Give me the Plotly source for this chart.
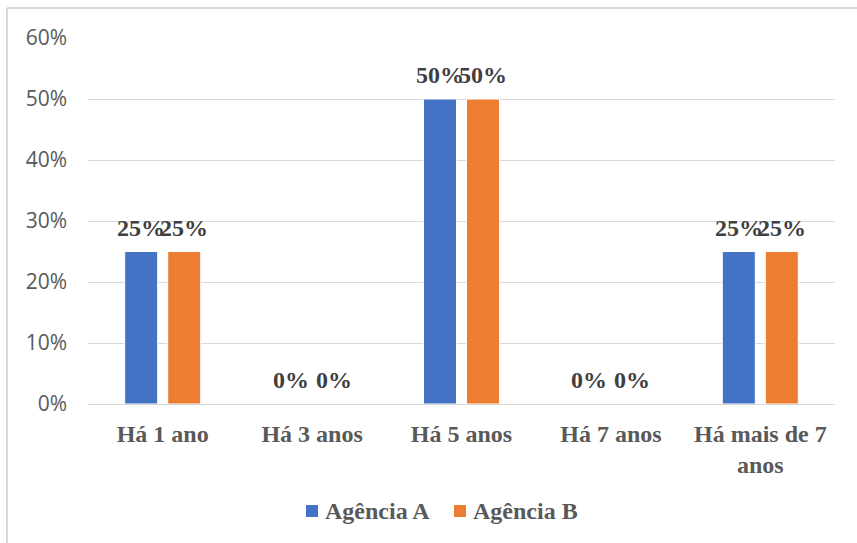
import plotly.graph_objects as go

# Time ranges and the share of respondents per agency
categories = ["Há 1 ano", "Há 3 anos", "Há 5 anos", "Há 7 anos", "Há mais de 7<br>anos"]
agencia_a = [0.25, 0.0, 0.50, 0.0, 0.25]
agencia_b = [0.25, 0.0, 0.50, 0.0, 0.25]
series_names = ["Agência A", "Agência B"]
y_ticks = [0, 0.1, 0.2, 0.3, 0.4, 0.5, 0.6]
y_tick_labels = ["0%", "10%", "20%", "30%", "40%", "50%", "60%"]

BLUE = "#4472C4"
ORANGE = "#ED7D31"
GRID = "#D9D9D9"
SERIF = "Liberation Serif"
BOLD_SERIF = dict(family=SERIF, weight="bold")

W, H = 857, 543
ML, MR, MT, MB = 88, 22, 38, 139
PW, PH = W - ML - MR, H - MT - MB

BAR_GAP = 0.424
GROUP_GAP = 0.233
# horizontal offset (px) of each bar centre from its category centre
slot_px = PW / len(categories) * (1 - BAR_GAP) / 2
offsets = [-slot_px / 2, slot_px / 2]


def px_x(p):
    return (p - ML) / PW


def px_y(p):
    return (H - MB - p) / PH


fig = go.Figure()
annotations = []
for name, vals, color, dx in zip(series_names, [agencia_a, agencia_b], [BLUE, ORANGE], offsets):
    fig.add_trace(go.Bar(
        name=name,
        x=categories,
        y=vals,
        marker=dict(color=color, line=dict(color="white", width=1)),
        showlegend=False,
    ))
    # value labels above each bar
    for cat, v in zip(categories, vals):
        annotations.append(dict(
            x=cat, y=v, xref="x", yref="y",
            text=f"{v:.0%}",
            showarrow=False,
            xanchor="center", yanchor="bottom",
            xshift=dx, yshift=9,
            font=dict(size=24, color="#404040", **BOLD_SERIF),
        ))

# legend drawn as swatches plus labels
legend_items = [(306, BLUE, series_names[0]), (454, ORANGE, series_names[1])]
shapes = []
for x0, color, label in legend_items:
    shapes.append(dict(type="rect", xref="paper", yref="paper",
                       x0=px_x(x0), x1=px_x(x0 + 12), y0=px_y(517), y1=px_y(505),
                       fillcolor=color, line=dict(width=0)))
    annotations.append(dict(
        x=px_x(x0 + 17), y=px_y(511), xref="paper", yref="paper",
        text=label, showarrow=False, xanchor="left", yanchor="middle",
        font=dict(size=24, color="#595959", **BOLD_SERIF),
    ))

# chart frame edges
shapes += [
    dict(type="line", xref="paper", yref="paper",
         x0=px_x(7), x1=px_x(W + 60), y0=px_y(8), y1=px_y(8),
         line=dict(color=GRID, width=2)),
    dict(type="line", xref="paper", yref="paper",
         x0=px_x(7), x1=px_x(7), y0=px_y(8), y1=px_y(H + 60),
         line=dict(color=GRID, width=2)),
]

fig.update_layout(
    width=W,
    height=H,
    margin=dict(l=ML, r=MR, t=MT, b=MB),
    paper_bgcolor="white",
    plot_bgcolor="white",
    barmode="group",
    bargap=BAR_GAP,
    bargroupgap=GROUP_GAP,
    showlegend=False,
    xaxis=dict(
        showgrid=False,
        showline=True,
        linecolor=GRID,
        linewidth=1,
        ticks="",
        tickfont=dict(size=24, color="#595959", **BOLD_SERIF),
        ticklabelstandoff=8,
    ),
    yaxis=dict(
        range=[0, 0.6],
        tickvals=y_ticks,
        ticktext=y_tick_labels,
        showgrid=True,
        gridcolor=GRID,
        gridwidth=1,
        zeroline=False,
        showline=False,
        ticks="",
        tickfont=dict(family="Open Sans", size=21, color="#595959"),
        ticklabelstandoff=20,
    ),
    shapes=shapes,
    annotations=annotations,
)

fig.write_html("out.html")
